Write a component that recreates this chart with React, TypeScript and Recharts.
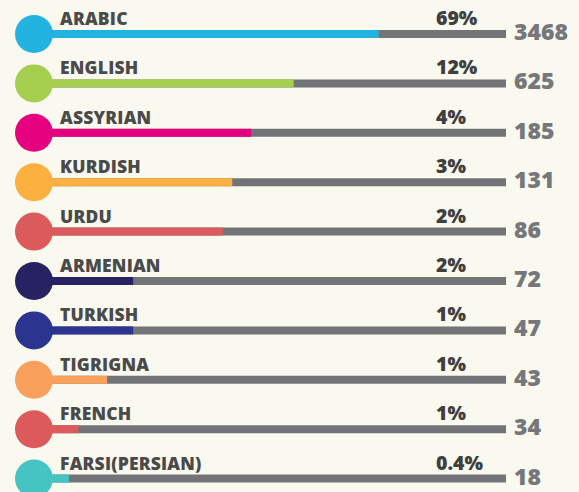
import React from 'react';
import { BarChart, Bar, XAxis, YAxis } from 'recharts';

const languages = ['ARABIC', 'ENGLISH', 'ASSYRIAN', 'KURDISH', 'URDU', 'ARMENIAN', 'TURKISH', 'TIGRIGNA', 'FRENCH', 'FARSI(PERSIAN)'];
const speakers = [3468, 625, 185, 131, 86, 72, 47, 43, 34, 18];
const shares = ['69%', '12%', '4%', '3%', '2%', '2%', '1%', '1%', '1%', '0.4%'];
// visual fill length of each coloured bar, as a share of the grey track
const fillLengths = [73, 55, 46, 42, 40, 21, 21, 15.5, 9.4, 7.4];
const colors = ['#22b3e0', '#a6cf50', '#e4027f', '#fbb040', '#db5a5b', '#272262', '#2b3590', '#f8a05c', '#dc5a5c', '#46c4c4'];

const data = languages.map((name, i) => ({
  name,
  count: speakers[i],
  share: shares[i],
  fill: fillLengths[i],
  color: colors[i],
}));

const FONT = "'Open Sans', sans-serif";

const RowShape = (props: any) => {
  const { x, y, width, height, payload } = props;
  const cy = y + height / 2;
  return (
    <g>
      <rect x={x} y={y} width={width} height={height} fill={payload.color} />
      <circle cx={x} cy={cy} r={19} fill={payload.color} />
      <text x={x + 26} y={cy - 9} fontFamily={FONT} fontWeight={800} fontSize={17.5} fill="#4a4a4a" letterSpacing={0.2}>
        {payload.name}
      </text>
      <text x={436} y={cy - 9} fontFamily={FONT} fontWeight={800} fontSize={19.5} fill="#3f3f3f">
        {payload.share}
      </text>
      <text x={514} y={cy + 6} fontFamily={FONT} fontWeight={800} fontSize={23} fill="#76777b">
        {payload.count}
      </text>
    </g>
  );
};

export default function App() {
  return (
    <div
      style={{
        position: 'fixed',
        left: 0,
        top: 0,
        width: 579,
        height: 492,
        overflow: 'hidden',
        background: '#f9f9ef',
      }}
    >
      <BarChart
        width={579}
        height={503}
        data={data}
        layout="vertical"
        margin={{ top: 9, right: 73, bottom: 0, left: 34 }}
      >
        <XAxis type="number" domain={[0, 100]} hide />
        <YAxis type="category" dataKey="name" hide width={0} />
        <Bar
          dataKey="fill"
          barSize={8}
          isAnimationActive={false}
          background={{ fill: '#737477' }}
          shape={RowShape}
        />
      </BarChart>
    </div>
  );
}
